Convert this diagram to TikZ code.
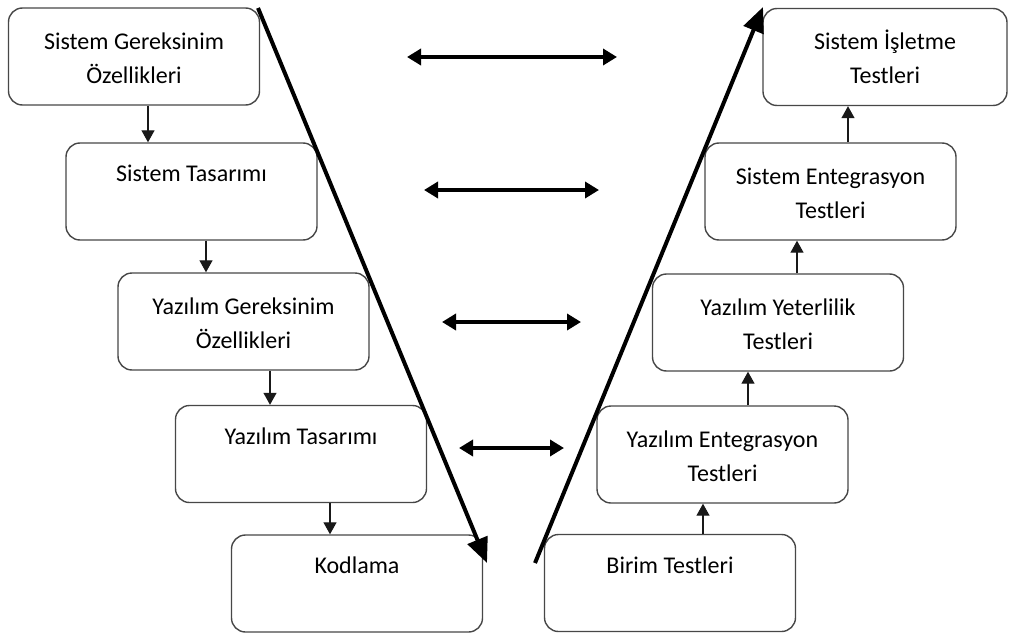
\documentclass[tikz,border=0pt]{standalone}
\usepackage{fontspec}
\setmainfont{Carlito}
\usetikzlibrary{arrows.meta}

% extra head room above the first line of a label
\newcommand{\headroom}{\rule{0pt}{30pt}}
% empty second line that keeps a single label in the upper half of its box
\newcommand{\blankline}{\rule[-16pt]{0pt}{16pt}}

\tikzset{
  stagebox/.style={draw=black!72, line width=1.4pt, rounded corners=14pt,
    fill=white, minimum width=251pt, minimum height=97pt, inner sep=0pt,
    align=center, text=black,
    font=\fontsize{24}{34}\selectfont},
  flow/.style={draw=black!90, line width=1.3pt,
    -{Triangle[length=12pt,width=13pt]}},
  link/.style={draw=black, line width=3.6pt,
    {Triangle[length=14pt,width=16pt]}-{Triangle[length=14pt,width=16pt]}},
  vleg/.style={draw=black, line width=4pt,
    -{Triangle[length=25pt,width=21pt]}},
}

\begin{document}
\begin{tikzpicture}[x=1pt,y=-1pt]
  \useasboundingbox (0,0) rectangle (1009,634);

  % left leg: specification and design
  \node[stagebox] (L1) at (134,56.5)   {\headroom Sistem Gereksinim\\Özellikleri\strut};
  \node[stagebox] (L2) at (191.5,191.5) {\headroom Sistem Tasarımı\\\blankline};
  \node[stagebox] (L3) at (243.5,321.5) {\headroom Yazılım Gereksinim\\Özellikleri\strut};
  \node[stagebox] (L4) at (301,454)     {\headroom Yazılım Tasarımı\\\blankline};
  \node[stagebox] (L5) at (357,583.5)   {\headroom Kodlama\\\blankline};

  % right leg: testing
  \node[stagebox, minimum width=244pt] (R1) at (885,57) {\headroom Sistem İşletme\\Testleri\strut};
  \node[stagebox] (R2) at (830.5,191.5) {\headroom Sistem Entegrasyon\\Testleri\strut};
  \node[stagebox] (R3) at (778,322.5)   {\headroom Yazılım Yeterlilik\\Testleri\strut};
  \node[stagebox] (R4) at (722.5,454.5) {\headroom Yazılım Entegrasyon\\Testleri\strut};
  \node[stagebox] (R5) at (670,583)     {\headroom Birim Testleri\\\blankline};

  % downward steps
  \draw[flow] (L1.south -| 148,0) -- (L2.north -| 148,0);
  \draw[flow] (L2.south -| 206,0) -- (L3.north -| 206,0);
  \draw[flow] (L3.south -| 270,0) -- (L4.north -| 270,0);
  \draw[flow] (L4.south -| 330,0) -- (L5.north -| 330,0);

  % upward steps
  \draw[flow] (R5.north -| 703,0) -- (R4.south -| 703,0);
  \draw[flow] (R4.north -| 748,0) -- (R3.south -| 748,0);
  \draw[flow] (R3.north -| 797,0) -- (R2.south -| 797,0);
  \draw[flow] (R2.north -| 848,0) -- (R1.south -| 848,0);

  % the two legs of the V
  \coordinate (vl1) at (258,8);
  \coordinate (vl2) at (487,563);
  \coordinate (vr1) at (535,563);
  \coordinate (vr2) at (763,7);
  \draw[vleg] (vl1) -- (vl2);
  \draw[vleg] (vr1) -- (vr2);

  % correspondences between levels
  \coordinate (a1) at (407,57);  \coordinate (b1) at (617,57);
  \coordinate (a2) at (424,190); \coordinate (b2) at (599,190);
  \coordinate (a3) at (442,322); \coordinate (b3) at (581,322);
  \coordinate (a4) at (459,448); \coordinate (b4) at (564,448);
  \draw[link] (a1) -- (b1);
  \draw[link] (a2) -- (b2);
  \draw[link] (a3) -- (b3);
  \draw[link] (a4) -- (b4);
\end{tikzpicture}
\end{document}
